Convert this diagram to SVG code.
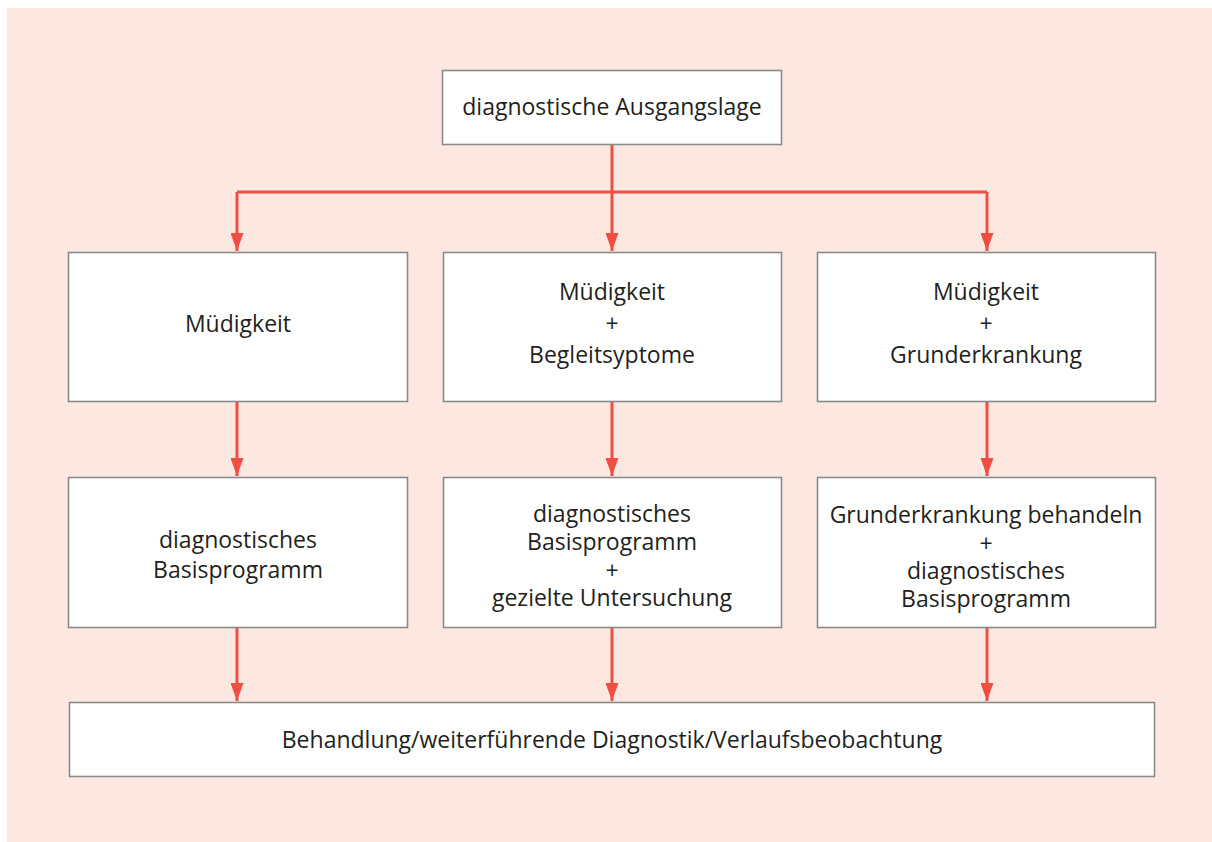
<svg xmlns="http://www.w3.org/2000/svg" width="1212" height="842" viewBox="0 0 1212 842">
<defs>
<style>
.box{fill:#ffffff;stroke:#8a8a8a;stroke-width:1.6}
.t{font-family:"Open Sans","Liberation Sans",sans-serif;font-size:23px;fill:#231f20;text-anchor:middle}
.c{fill:none;stroke:#f04e43;stroke-width:3}
</style>
<marker id="ah" viewBox="0 0 18 13" refX="18" refY="6.5" markerWidth="18" markerHeight="13" markerUnits="userSpaceOnUse" orient="auto">
<path d="M0,0 L18,6.5 L0,13 Z" fill="#f04e43"/>
</marker>
</defs>
<rect x="7" y="8" width="1205" height="834" fill="#fce8e1"/>
<g id="connectors">
<path class="c" d="M612,145 V192"/>
<path class="c" d="M237,192 H987"/>
<path class="c" d="M237,192 V251" marker-end="url(#ah)"/>
<path class="c" d="M612,192 V251" marker-end="url(#ah)"/>
<path class="c" d="M987,192 V251" marker-end="url(#ah)"/>
<path class="c" d="M237,402 V476" marker-end="url(#ah)"/>
<path class="c" d="M612,402 V476" marker-end="url(#ah)"/>
<path class="c" d="M987,402 V476" marker-end="url(#ah)"/>
<path class="c" d="M237,628 V701" marker-end="url(#ah)"/>
<path class="c" d="M612,628 V701" marker-end="url(#ah)"/>
<path class="c" d="M987,628 V701" marker-end="url(#ah)"/>
</g>
<g id="n0"><rect class="box" x="442.5" y="70.5" width="339" height="74"/><text class="t" x="612" y="115">diagnostische Ausgangslage</text></g>
<g id="n1"><rect class="box" x="68.5" y="252.5" width="339" height="149"/><text class="t" x="238" y="332">Müdigkeit</text></g>
<g id="n2"><rect class="box" x="443.5" y="252.5" width="338" height="149"/><text class="t" x="612" y="300">Müdigkeit</text><text class="t" x="612" y="332">+</text><text class="t" x="612" y="363">Begleitsyptome</text></g>
<g id="n3"><rect class="box" x="817.5" y="252.5" width="338" height="149"/><text class="t" x="986" y="300">Müdigkeit</text><text class="t" x="986" y="332">+</text><text class="t" x="986" y="363">Grunderkrankung</text></g>
<g id="n4"><rect class="box" x="68.5" y="477.5" width="339" height="150"/><text class="t" x="238" y="548">diagnostisches</text><text class="t" x="238" y="578">Basisprogramm</text></g>
<g id="n5"><rect class="box" x="443.5" y="477.5" width="338" height="150"/><text class="t" x="612" y="522">diagnostisches</text><text class="t" x="612" y="550">Basisprogramm</text><text class="t" x="612" y="579">+</text><text class="t" x="612" y="606">gezielte Untersuchung</text></g>
<g id="n6"><rect class="box" x="817.5" y="477.5" width="338" height="150"/><text class="t" x="986" y="523">Grunderkrankung behandeln</text><text class="t" x="986" y="552">+</text><text class="t" x="986" y="579">diagnostisches</text><text class="t" x="986" y="607">Basisprogramm</text></g>
<g id="n7"><rect class="box" x="69.5" y="702.5" width="1085" height="74"/><text class="t" x="612" y="748">Behandlung/weiterführende Diagnostik/Verlaufsbeobachtung</text></g>
</svg>
